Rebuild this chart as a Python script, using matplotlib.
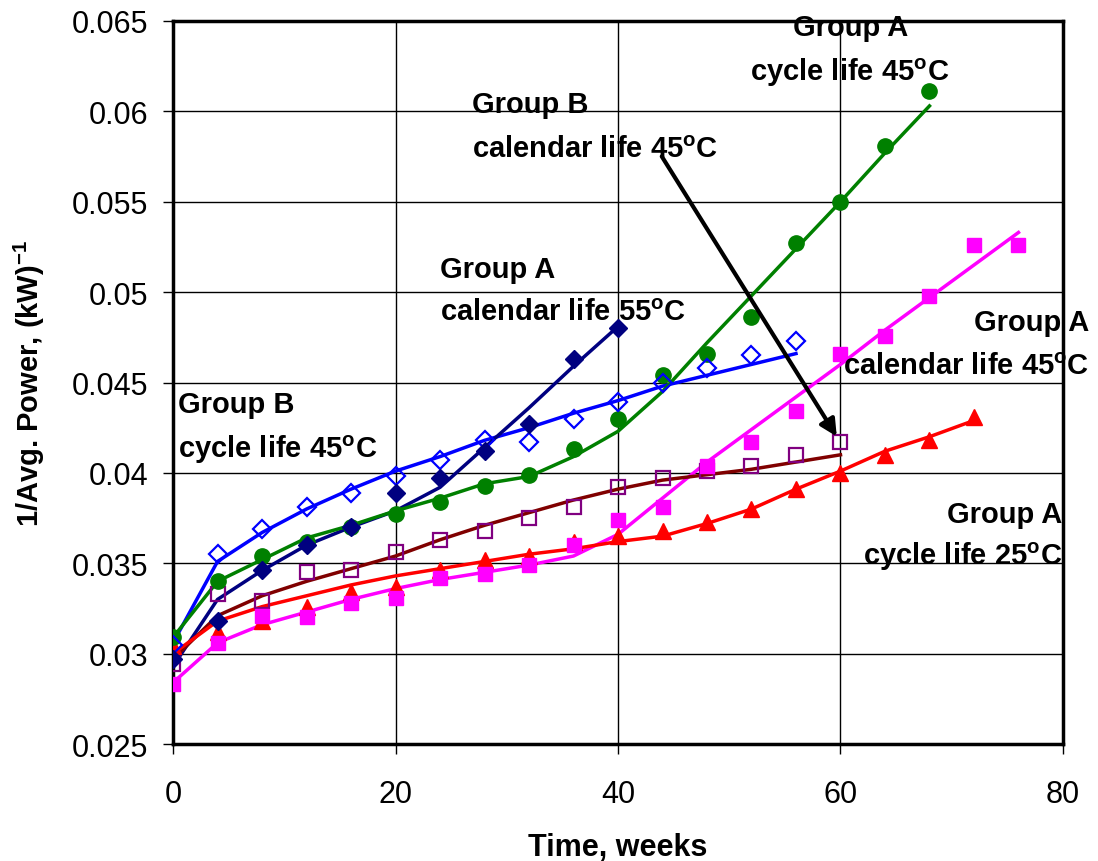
import matplotlib
matplotlib.use("Agg")
import matplotlib.pyplot as plt
import numpy as np

plt.rcParams['font.family'] = ['Liberation Sans', 'DejaVu Sans']
plt.rcParams['mathtext.fontset'] = 'custom'
plt.rcParams['mathtext.rm'] = 'Liberation Sans:bold'
plt.rcParams['mathtext.bf'] = 'Liberation Sans:bold'
plt.rcParams['mathtext.default'] = 'bf'

# measured points (weeks, 1/avg power)
wk_bc45 = [0, 4, 8, 12, 16, 20, 24, 28, 32, 36, 40, 44, 48, 52, 56]
bc45 = [0.0305, 0.0355, 0.0369, 0.0381, 0.0389, 0.0398, 0.0407, 0.0418, 0.0417,
        0.0430, 0.0439, 0.0450, 0.0458, 0.0465, 0.0473]
bc45_fit = [0.0306, 0.0351, 0.0367, 0.0380, 0.0391, 0.0401, 0.0409, 0.0418, 0.0425,
            0.0433, 0.0440, 0.0448, 0.0454, 0.0460, 0.0466]

wk_acal55 = [0, 4, 8, 12, 16, 20, 24, 28, 32, 36, 40]
acal55 = [0.0297, 0.0318, 0.0346, 0.0360, 0.0370, 0.0389, 0.0397, 0.0412, 0.0427,
          0.0463, 0.0480]
acal55_fit = [0.0293, 0.0330, 0.0346, 0.0360, 0.0370, 0.0379, 0.0392, 0.0414, 0.0436,
              0.0459, 0.0481]

wk_ac45 = [0, 4, 8, 12, 16, 20, 24, 28, 32, 36, 40, 44, 48, 52, 56, 60, 64, 68]
ac45 = [0.0309, 0.0340, 0.0354, 0.0362, 0.0370, 0.0377, 0.0384, 0.0393, 0.0399,
        0.0413, 0.0430, 0.0454, 0.0466, 0.0486, 0.0527, 0.0550, 0.0581, 0.0611]
ac45_fit = [0.0309, 0.0340, 0.0352, 0.0364, 0.0371, 0.0379, 0.0386, 0.0394, 0.0398,
            0.0409, 0.0423, 0.0445, 0.0472, 0.0498, 0.0524, 0.0550, 0.0577, 0.0603]

wk_acal45 = [0, 4, 8, 12, 16, 20, 24, 28, 32, 36, 40, 44, 48, 52, 56, 60, 64, 68, 72, 76]
acal45 = [0.0283, 0.0306, 0.0321, 0.0320, 0.0328, 0.0331, 0.0342, 0.0344, 0.0349,
          0.0360, 0.0374, 0.0381, 0.0404, 0.0417, 0.0434, 0.0466, 0.0476, 0.0498,
          0.0526, 0.0526]
acal45_fit = [0.0284, 0.0306, 0.0316, 0.0323, 0.0330, 0.0336, 0.0341, 0.0345, 0.0349,
              0.0354, 0.0366, 0.0386, 0.0406, 0.0424, 0.0442, 0.0460, 0.0479, 0.0497,
              0.0515, 0.0533]

wk_bcal45 = [0, 4, 8, 12, 16, 20, 24, 28, 32, 36, 40, 44, 48, 52, 56, 60]
bcal45 = [0.0294, 0.0333, 0.0329, 0.0345, 0.0346, 0.0356, 0.0363, 0.0368, 0.0375,
          0.0381, 0.0392, 0.0397, 0.0401, 0.0404, 0.0410, 0.0417]
bcal45_fit = [0.0297, 0.0321, 0.0332, 0.0340, 0.0347, 0.0354, 0.0363, 0.0371, 0.0378,
              0.0385, 0.0391, 0.0396, 0.0399, 0.0402, 0.0406, 0.0410]

wk_ac25 = [0, 4, 8, 12, 16, 20, 24, 28, 32, 36, 40, 44, 48, 52, 56, 60, 64, 68, 72]
ac25 = [0.0304, 0.0312, 0.0318, 0.0326, 0.0334, 0.0337, 0.0346, 0.0352, 0.0354,
        0.0362, 0.0365, 0.0368, 0.0373, 0.0380, 0.0391, 0.0400, 0.0410, 0.0418, 0.0431]
ac25_fit = [0.0300, 0.0318, 0.0326, 0.0332, 0.0338, 0.0343, 0.0347, 0.0351, 0.0355,
            0.0358, 0.0362, 0.0365, 0.0372, 0.0380, 0.0391, 0.0401, 0.0412, 0.0420, 0.0429]

fig = plt.figure(figsize=(10.98, 8.62), dpi=100)
ax = fig.add_axes([0.1576, 0.1357, 0.8105, 0.8388])

lw = 2.5
# fitted curves
ax.plot(wk_bc45, bc45_fit, color='#0000FF', lw=lw, zorder=3)
ax.plot(wk_acal55, acal55_fit, color='#000080', lw=lw, zorder=3)
ax.plot(wk_ac45, ac45_fit, color='#008000', lw=lw, zorder=3)
ax.plot(wk_acal45, acal45_fit, color='#FF00FF', lw=lw, zorder=3)
ax.plot(wk_bcal45, bcal45_fit, color='#800000', lw=lw, zorder=3)
ax.plot(wk_ac25, ac25_fit, color='#FF0000', lw=lw, zorder=3)

# data markers
ax.plot(wk_bcal45, bcal45, ls='none', marker='s', ms=10, mfc='none', mec='#800080', mew=1.6, zorder=4)
ax.plot(wk_ac25, ac25, ls='none', marker='^', ms=12, color='#FF0000', zorder=4)
ax.plot(wk_acal45, acal45, ls='none', marker='s', ms=10.5, color='#FF00FF', zorder=4)
ax.plot(wk_ac45, ac45, ls='none', marker='o', ms=11, color='#008000', zorder=4)
ax.plot(wk_bc45, bc45, ls='none', marker='D', ms=9, mfc='none', mec='#0000FF', mew=1.6, zorder=4)
ax.plot(wk_acal55, acal55, ls='none', marker='D', ms=9.5, color='#000080', zorder=4)

ax.set_xlim(0, 80)
ax.set_ylim(0.025, 0.065)
ax.set_xticks([0, 20, 40, 60, 80])
ax.set_yticks([0.025, 0.03, 0.035, 0.04, 0.045, 0.05, 0.055, 0.06, 0.065])
ax.set_yticklabels(['0.025', '0.03', '0.035', '0.04', '0.045', '0.05', '0.055', '0.06', '0.065'])
ax.grid(True, color='black', lw=1.0)
ax.set_axisbelow(True)
for s in ax.spines.values():
    s.set_linewidth(2.5)
ax.tick_params(labelsize=22, length=7, width=1, direction='out')
ax.tick_params(axis='x', pad=18)
ax.tick_params(axis='y', pad=11)

ax.set_xlabel('Time, weeks', fontsize=22, fontweight='bold')
ax.set_ylabel('1/Avg. Power, (kW)$^{-1}$', fontsize=21, fontweight='bold')
ax.xaxis.set_label_coords(0.5, -0.122)
ax.yaxis.set_label_coords(-0.142, 0.5)

tk = dict(fontsize=21, fontweight='bold', va='center', zorder=6)
ax.text(0.45, 0.04382, 'Group B', ha='left', **tk)
ax.text(0.45, 0.04133, 'cycle life 45$^{o}$C', ha='left', **tk)
ax.text(24.0, 0.05128, 'Group A', ha='left', **tk)
ax.text(24.0, 0.04890, 'calendar life 55$^{o}$C', ha='left', **tk)
ax.text(26.9, 0.06041, 'Group B', ha='left', **tk)
ax.text(26.9, 0.05792, 'calendar life 45$^{o}$C', ha='left', **tk)
ax.text(55.7, 0.06467, 'Group A', ha='left', **tk)
ax.text(51.9, 0.06218, 'cycle life 45$^{o}$C', ha='left', **tk)
ax.text(82.4, 0.04835, 'Group A', ha='right', **tk)
ax.text(82.4, 0.04592, 'calendar life 45$^{o}$C', ha='right', **tk)
ax.text(79.9, 0.03773, 'Group A', ha='right', **tk)
ax.text(79.9, 0.03541, 'cycle life 25$^{o}$C', ha='right', **tk)

ax.annotate('', xy=(59.8, 0.04188), xytext=(43.8, 0.05764),
            arrowprops=dict(arrowstyle='-|>', color='black', lw=3, mutation_scale=25),
            zorder=6)

fig.savefig('out.png', dpi=100)
